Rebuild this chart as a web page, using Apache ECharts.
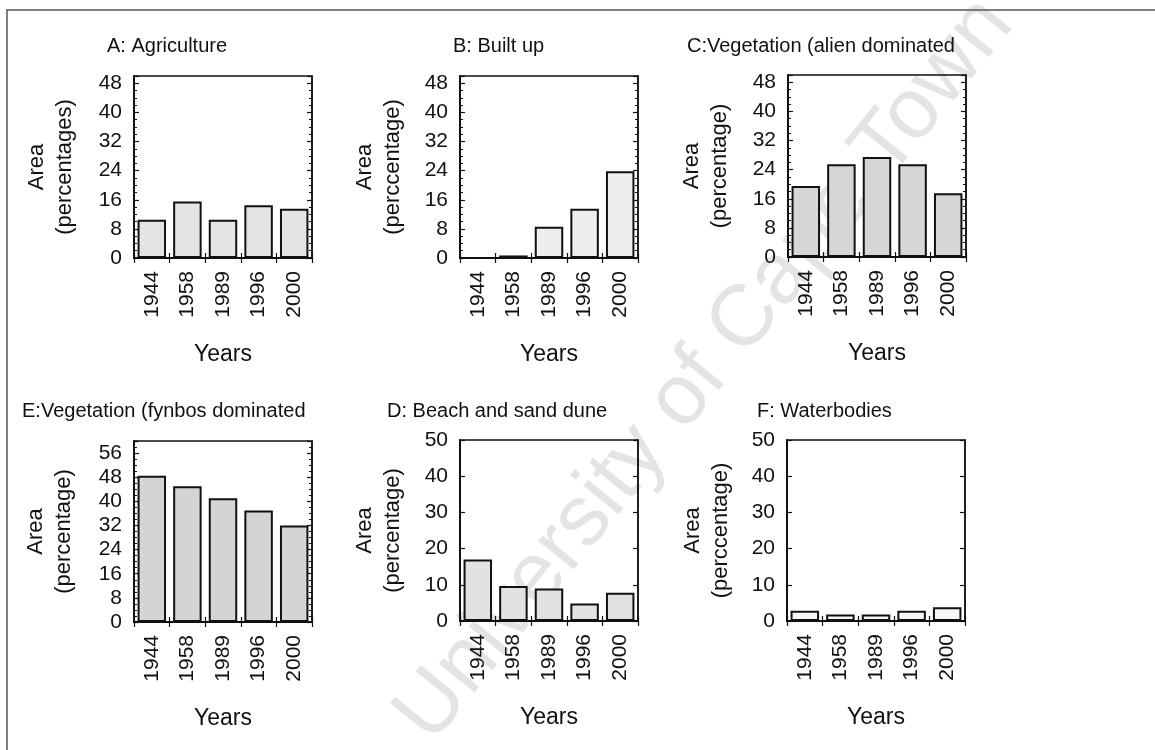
<!DOCTYPE html>
<html>
<head>
<meta charset="utf-8">
<title>Land cover area by year</title>
<script src="https://cdn.jsdelivr.net/npm/echarts@6/dist/echarts.min.js"></script>
<style>
  html, body { margin: 0; padding: 0; background: #fff; }
  #chart { width: 1155px; height: 750px; }
</style>
</head>
<body>
<div id="chart"></div>
<script>
// values (area in %)
const years = ['1944', '1958', '1989', '1996', '2000']
const agriculture = [10.5, 15.5, 10.5, 14.5, 13.5]
const builtUp = [0, 0.7, 8.6, 13.5, 23.8]
const alienVeg = [19.5, 25.5, 27.5, 25.5, 17.5]
const fynbosVeg = [48.5, 45, 41, 37, 32]
const beachDune = [17, 9.7, 9, 4.8, 7.8]
const waterbodies = [2.8, 1.8, 1.8, 2.8, 3.8]

const FONT = 'Liberation Sans'
const INK = '#111'

const panels = [
  { title: 'A: Agriculture', yName: 'Area\n(percentages)', data: agriculture, max: 50, interval: 8, minor: true,
    left: 134, top: 76, height: 182, titleX: 107, nameGap: 55, fill: '#e4e4e4' },
  { title: 'B: Built up', yName: 'Area\n(perccentage)', data: builtUp, max: 50, interval: 8, minor: true,
    left: 460, top: 76, height: 182, titleX: 453, nameGap: 53, fill: '#eeeeee' },
  { title: 'C:Vegetation (alien dominated', yName: 'Area\n(percentage)', data: alienVeg, max: 50, interval: 8, minor: true,
    left: 788, top: 75, height: 182, titleX: 687, nameGap: 54, fill: '#d6d6d6' },
  { title: 'E:Vegetation (fynbos dominated', yName: 'Area\n(percentage)', data: fynbosVeg, max: 60, interval: 8, minor: true,
    left: 134, top: 441, height: 181, titleX: 22, nameGap: 56, fill: '#d4d4d4' },
  { title: 'D: Beach and sand dune', yName: 'Area\n(percentage)', data: beachDune, max: 50, interval: 10, minor: false,
    left: 460, top: 440, height: 181, titleX: 387, nameGap: 53, fill: '#e2e2e2' },
  { title: 'F: Waterbodies', yName: 'Area\n(perccentage)', data: waterbodies, max: 50, interval: 10, minor: false,
    left: 787, top: 440, height: 181, titleX: 757, nameGap: 52, fill: '#f6f6f6' }
]

const chart = echarts.init(document.getElementById('chart'))

const option = {
  backgroundColor: '#fff',
  animation: false,
  title: [],
  grid: [],
  xAxis: [],
  yAxis: [],
  series: [],
  graphic: {
    elements: [
      // watermark, on its own layer underneath everything
      {
        type: 'text', x: 705, y: 370, rotation: 51 * Math.PI / 180, zlevel: -1, z: 0, silent: true,
        style: { text: 'University of Cape Town', fill: '#e4e4e4', font: '86px ' + FONT, align: 'center', verticalAlign: 'middle' }
      },
      // page frame (top and left edges)
      { type: 'polyline', silent: true, shape: { points: [[7, 752], [7, 10], [1155, 10]] }, style: { stroke: '#555', lineWidth: 1.5, fill: null } }
    ]
  }
}

panels.forEach((p, i) => {
  const top = p.top
  option.title.push({
    text: p.title, left: p.titleX, top: top < 200 ? 36 : 401, padding: 0,
    textStyle: { fontFamily: FONT, fontSize: 20, fontWeight: 'normal', color: INK }
  })
  option.grid.push({
    left: p.left, top: top, width: 178, height: p.height,
    show: true, borderColor: INK, borderWidth: 1.5, backgroundColor: 'transparent'
  })

  const tick = { show: true, inside: true, length: 5, lineStyle: { color: INK, width: 1.2 } }
  const minor = { show: p.minor, splitNumber: 4, length: 3, lineStyle: { color: INK, width: 1 } }

  // bottom category axis
  option.xAxis.push({
    type: 'category', gridIndex: i, data: years, position: 'bottom',
    name: 'Years', nameLocation: 'middle', nameGap: 85,
    nameTextStyle: { fontFamily: FONT, fontSize: 23, color: INK },
    axisLine: { lineStyle: { color: INK, width: 2 } },
    axisTick: tick,
    axisLabel: { rotate: 90, margin: 13, fontFamily: FONT, fontSize: 21, color: INK },
    splitLine: { show: false }
  })
  // top mirror axis (ticks only)
  option.xAxis.push({
    type: 'category', gridIndex: i, data: years, position: 'top',
    axisLine: { lineStyle: { color: INK, width: 1.5 } },
    axisTick: tick, axisLabel: { show: false }, splitLine: { show: false }
  })
  // left value axis
  option.yAxis.push({
    type: 'value', gridIndex: i, min: 0, max: p.max, interval: p.interval, position: 'left',
    name: p.yName, nameLocation: 'middle', nameRotate: 90, nameGap: p.nameGap,
    nameTextStyle: { fontFamily: FONT, fontSize: 22, color: INK, lineHeight: 28, align: 'center' },
    axisLine: { show: true, lineStyle: { color: INK, width: 2 } },
    axisTick: tick, minorTick: minor,
    axisLabel: { margin: 12, fontFamily: FONT, fontSize: 21, color: INK, showMaxLabel: p.max % p.interval === 0 },
    splitLine: { show: false }
  })
  // right mirror axis (ticks only)
  option.yAxis.push({
    type: 'value', gridIndex: i, min: 0, max: p.max, interval: p.interval, position: 'right',
    axisLine: { show: true, lineStyle: { color: INK, width: 1.5 } },
    axisTick: tick, minorTick: minor,
    axisLabel: { show: false }, splitLine: { show: false }
  })

  option.series.push({
    type: 'bar', name: p.title, data: p.data,
    xAxisIndex: i * 2, yAxisIndex: i * 2,
    barWidth: '80%',
    itemStyle: { color: p.fill, borderColor: INK, borderWidth: 2 }
  })
})

chart.setOption(option)
</script>
</body>
</html>
